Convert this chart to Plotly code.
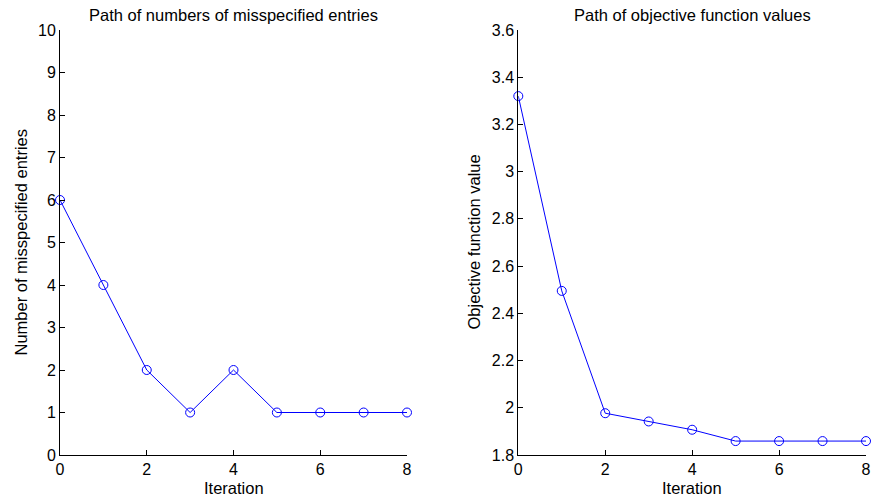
import plotly.graph_objects as go

iterations = [0, 1, 2, 3, 4, 5, 6, 7, 8]
misspecified = [6, 4, 2, 1, 2, 1, 1, 1, 1]
objective = [3.32, 2.495, 1.977, 1.942, 1.907, 1.859, 1.859, 1.859, 1.859]

x_ticks = [0, 2, 4, 6, 8]
left_y_ticks = [0, 1, 2, 3, 4, 5, 6, 7, 8, 9, 10]
right_y_ticks = [1.8, 2.0, 2.2, 2.4, 2.6, 2.8, 3.0, 3.2, 3.4, 3.6]
right_y_labels = ["1.8", "2", "2.2", "2.4", "2.6", "2.8", "3", "3.2", "3.4", "3.6"]

titles = ["Path of numbers of misspecified entries", "Path of objective function values"]
y_titles = ["Number of misspecified entries", "Objective function value"]
x_title = "Iteration"

FONT = "Liberation Sans, Arial, Helvetica, sans-serif"
BLUE = "rgb(0,0,255)"

fig = go.Figure()
fig.add_trace(go.Scatter(x=iterations, y=misspecified, mode="lines+markers",
                         line=dict(color=BLUE, width=1),
                         marker=dict(symbol="circle-open", size=9, color=BLUE, line=dict(width=1)),
                         xaxis="x", yaxis="y", showlegend=False, cliponaxis=False))
fig.add_trace(go.Scatter(x=iterations, y=objective, mode="lines+markers",
                         line=dict(color=BLUE, width=1),
                         marker=dict(symbol="circle-open", size=9, color=BLUE, line=dict(width=1)),
                         xaxis="x2", yaxis="y2", showlegend=False, cliponaxis=False))

W, H = 875, 503
L1, R1 = 60 / W, 407 / W
L2, R2 = 518.3 / W, 866 / W
B, T = 48 / H, 473 / H

axis_common = dict(showline=True, linecolor="black", linewidth=1, ticks="inside",
                   ticklen=5, tickcolor="black", showgrid=False, zeroline=False,
                   automargin=False,
                   tickfont=dict(family=FONT, size=16, color="black"), mirror=False)

fig.update_layout(
    template="none",
    width=W, height=H,
    margin=dict(l=0, r=0, t=0, b=0, pad=0),
    paper_bgcolor="white", plot_bgcolor="white",
    font=dict(family=FONT, size=16, color="black"),
    xaxis=dict(domain=[L1, R1], range=[0, 8], tickvals=x_ticks, anchor="y", **axis_common),
    yaxis=dict(domain=[B, T], range=[0, 10], tickvals=left_y_ticks, anchor="x", **axis_common),
    xaxis2=dict(domain=[L2, R2], range=[0, 8], tickvals=x_ticks, anchor="y2", **axis_common),
    yaxis2=dict(domain=[B, T], range=[1.8, 3.6], tickvals=right_y_ticks, ticktext=right_y_labels,
                anchor="x2", **axis_common),
)

annos = []
for (l, r), t, yt, yx in [((L1, R1), titles[0], y_titles[0], 20), ((L2, R2), titles[1], y_titles[1], 473)]:
    cx = (l + r) / 2
    annos.append(dict(text=t, x=cx, y=1 - 15 / H, xref="paper", yref="paper", showarrow=False,
                      xanchor="center", yanchor="middle", font=dict(family=FONT, size=16.5, color="black")))
    annos.append(dict(text=x_title, x=cx, y=1 - 488 / H, xref="paper", yref="paper", showarrow=False,
                      xanchor="center", yanchor="middle", font=dict(family=FONT, size=16.5, color="black")))
    annos.append(dict(text=yt, x=yx / W, y=(B + T) / 2, xref="paper", yref="paper", showarrow=False,
                      textangle=-90, xanchor="center", yanchor="middle",
                      font=dict(family=FONT, size=16.5, color="black")))
fig.update_layout(annotations=annos)

fig.write_html("out.html", config={"displayModeBar": False},
               post_script="document.body.style.margin='0';document.body.style.overflow='hidden';")
